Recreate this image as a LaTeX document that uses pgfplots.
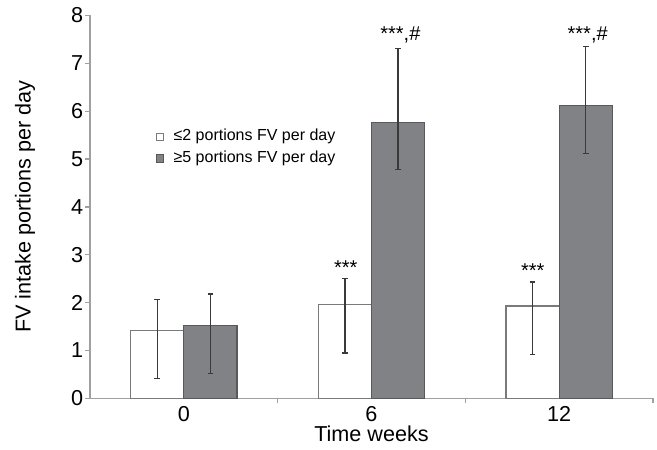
\documentclass[border=0pt]{standalone}
\usepackage{fontspec}
\setmainfont{Liberation Sans}
\usepackage{pgfplots}
\pgfplotsset{compat=1.18}
\definecolor{axisgray}{HTML}{A0A0A0}
\definecolor{barfill}{HTML}{808285}
\definecolor{baredge}{HTML}{58595B}
\definecolor{whiteedge}{HTML}{7A7A7A}
\definecolor{errcol}{HTML}{3A3A3A}

\begin{document}
\begin{tikzpicture}
\path[use as bounding box] (-45pt,-25.35pt) rectangle (283.5pt,199.2pt);
\begin{axis}[
    at={(0,0)}, anchor=south west,
    scale only axis,
    width=281.5pt, height=191.5pt,
    xmin=-0.5, xmax=2.5, ymin=0, ymax=8,
    axis lines*=left,
    axis line style={axisgray, line width=0.8pt},
    xtick={0,1,2}, xticklabels={0,6,12},
    minor xtick={0.5,1.5,2.5},
    ytick={0,1,...,8},
    major x tick style={draw=none},
    tick align=outside,
    major tick length=2.5pt, minor tick length=2.5pt,
    tick style={axisgray, line width=0.6pt},
    ticklabel style={font=\fontsize{10.8}{13}\selectfont},
    xticklabel style={yshift=1.8pt},
    yticklabel style={xshift=2.6pt},
    /pgf/number format/assume math mode=true,
    xlabel={Time weeks},
    ylabel={FV intake portions per day},
    label style={font=\fontsize{10.8}{13}\selectfont},
    xlabel style={at={(axis description cs:0.5,-0.0925)}, anchor=center},
    ylabel style={at={(axis description cs:-0.1155,0.5)}, anchor=center},
    ybar, bar width=0.283,
    error bars/y dir=both, error bars/y explicit,
    error bars/error bar style={errcol, line width=0.6pt},
    error bars/error mark options={rotate=90, errcol, mark size=1.4pt, line width=0.6pt},
    legend style={at={(rel axis cs:0.116,0.655)}, anchor=west, draw=none, fill=none,
        font=\fontsize{8}{9.6}\selectfont, row sep=-0.4pt, inner sep=0pt},
    legend cell align=left,
]
\addplot[fill=white, draw=whiteedge, line width=0.6pt, bar shift=-0.1415,
    legend image code/.code={\draw[fill=white, draw=whiteedge, line width=0.5pt] (0pt,-1.8pt) rectangle (3.6pt,1.8pt); \path (6.4pt,0pt);}]
    coordinates {
    (0,1.42) += (0,0.65) -= (0,1.00)
    (1,1.96) += (0,0.55) -= (0,1.01)
    (2,1.93) += (0,0.50) -= (0,1.02)
};
\addlegendentry{≤2 portions FV per day}
\addplot[fill=barfill, draw=baredge, line width=0.6pt, bar shift=0.1415,
    legend image code/.code={\draw[fill=barfill, draw=baredge, line width=0.5pt] (0pt,-1.8pt) rectangle (3.6pt,1.8pt); \path (6.4pt,0pt);}]
    coordinates {
    (0,1.53) += (0,0.65) -= (0,1.01)
    (1,5.77) += (0,1.54) -= (0,0.99)
    (2,6.12) += (0,1.23) -= (0,1.01)
};
\addlegendentry{≥5 portions FV per day}
\node[font=\fontsize{10}{12}\selectfont] at (axis cs:0.8625,2.77) [yshift=-1pt] {***};
\node[font=\fontsize{10}{12}\selectfont] at (axis cs:1.154,7.63) [yshift=-1pt] {***,\#};
\node[font=\fontsize{10}{12}\selectfont] at (axis cs:1.859,2.72) [yshift=-1pt] {***};
\node[font=\fontsize{10}{12}\selectfont] at (axis cs:2.152,7.63) [yshift=-1pt] {***,\#};
\end{axis}
\end{tikzpicture}
\end{document}
